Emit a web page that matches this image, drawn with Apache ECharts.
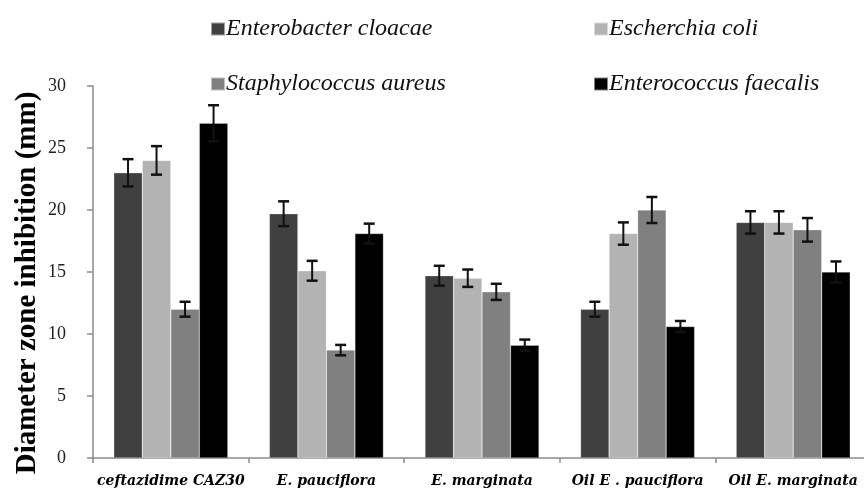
<!DOCTYPE html>
<html><head><meta charset="utf-8">
<script src="https://cdn.jsdelivr.net/npm/echarts@6/dist/echarts.min.js"></script>
<style>html,body{margin:0;padding:0;background:#fff}#c{width:864px;height:491px}</style>
</head><body><div id="c"></div>
<script>
var categories = ['ceftazidime CAZ30', 'E. pauciflora', 'E. marginata', 'Oil E . pauciflora', 'Oil E. marginata'];
var seriesNames = ['Enterobacter cloacae', 'Escherchia coli', 'Staphylococcus aureus', 'Enterococcus faecalis'];
var cloacae = [23.0, 19.7, 14.7, 12.0, 19.0];
var cloacaeErr = [1.1, 1.0, 0.8, 0.6, 0.9];
var coli = [24.0, 15.1, 14.5, 18.1, 19.0];
var coliErr = [1.15, 0.8, 0.7, 0.9, 0.9];
var aureus = [12.0, 8.7, 13.4, 20.0, 18.4];
var aureusErr = [0.6, 0.42, 0.65, 1.05, 0.95];
var faecalis = [27.0, 18.1, 9.1, 10.6, 15.0];
var faecalisErr = [1.45, 0.8, 0.45, 0.45, 0.85];
var yTicks = [0, 5, 10, 15, 20, 25, 30];
var yTitle = 'Diameter zone inhibition (mm)';

var values = [cloacae, coli, aureus, faecalis];
var errors = [cloacaeErr, coliErr, aureusErr, faecalisErr];
var colors = ['#404040', '#b3b3b3', '#808080', '#000000'];
var catGap = 0.267;

var chart = echarts.init(document.getElementById('c'));
var series = [];
values.forEach(function (vals, i) {
  series.push({
    name: seriesNames[i], type: 'bar', data: vals, barGap: '0%', barCategoryGap: (catGap * 100) + '%',
    itemStyle: { color: colors[i], borderColor: 'rgba(255,255,255,0.5)', borderWidth: 0.5 }
  });
});
values.forEach(function (vals, i) {
  series.push({
    type: 'custom', silent: true, z: 10,
    data: vals.map(function (v, k) { return [k, v, errors[i][k]]; }),
    encode: { x: 0, y: 1 },
    renderItem: function (params, api) {
      var idx = api.value(0), v = api.value(1), e = api.value(2);
      var c = api.coord([idx, v]);
      var catW = api.size([1, 0])[0];
      var bw = catW * (1 - catGap) / 4;
      var x = c[0] + (i - 1.5) * bw;
      var top = api.coord([idx, v + e])[1];
      var bot = api.coord([idx, v - e])[1];
      var hw = 5.5;
      var st = { stroke: '#111', lineWidth: 2.5 };
      return { type: 'group', children: [
        { type: 'line', shape: { x1: x, y1: top, x2: x, y2: bot }, style: { stroke: '#111', lineWidth: 2 } },
        { type: 'line', shape: { x1: x - hw, y1: top, x2: x + hw, y2: top }, style: st },
        { type: 'line', shape: { x1: x - hw, y1: bot, x2: x + hw, y2: bot }, style: st }
      ]};
    }
  });
});

var legendPos = [[205, 12], [588, 12], [205, 67], [588, 67]];
var legends = seriesNames.map(function (n, i) {
  return {
    data: [n], left: legendPos[i][0], top: legendPos[i][1], itemWidth: 14, itemHeight: 13, itemGap: 0,
    icon: 'rect', selectedMode: false,
    textStyle: { fontFamily: 'Liberation Serif', fontStyle: 'italic', fontSize: 24, color: '#111', padding: [0, 0, 0, -4] }
  };
});

chart.setOption({
  animation: false,
  legend: legends,
  graphic: [{
    type: 'text', x: 28, y: 283, rotation: Math.PI / 2,
    style: { text: yTitle, fontFamily: 'Liberation Serif', fontWeight: 'bold', fontSize: 29, fill: '#000', textAlign: 'center', textVerticalAlign: 'middle' }
  }],
  grid: { left: 93, width: 778, top: 86, bottom: 33, containLabel: false, outerBoundsMode: 'none' },
  xAxis: {
    type: 'category', data: categories,
    axisLine: { lineStyle: { color: '#8c8c8c', width: 1.5 } },
    axisTick: { show: true, length: 5, lineStyle: { color: '#8c8c8c', width: 1.5 } },
    axisLabel: { margin: 16, fontFamily: 'DejaVu Serif', fontStyle: 'italic', fontWeight: 'bold', fontSize: 14, color: '#000', interval: 0 }
  },
  yAxis: {
    type: 'value', min: yTicks[0], max: yTicks[yTicks.length - 1], interval: 5,
    splitLine: { show: false },
    axisLine: { show: true, lineStyle: { color: '#8c8c8c', width: 1.5 } },
    axisTick: { show: true, length: 6, lineStyle: { color: '#8c8c8c', width: 1.5 } },
    axisLabel: { margin: 27, fontFamily: 'Liberation Serif', fontSize: 18, color: '#222' }
  },
  series: series
});
</script></body></html>
